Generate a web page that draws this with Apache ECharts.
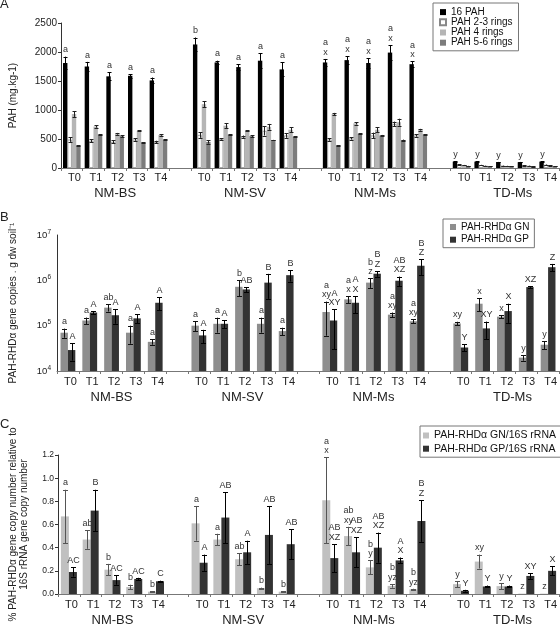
<!DOCTYPE html>
<html><head><meta charset="utf-8">
<script src="https://cdn.jsdelivr.net/npm/echarts@6/dist/echarts.min.js"></script>
<style>html,body{margin:0;padding:0;background:#fff}#c{width:560px;height:627px}</style>
</head><body><div id="c"></div>
<script>
// ---------- categories ----------
const groups = ['NM-BS', 'NM-SV', 'NM-Ms', 'TD-Ms'];
const times = ['T0', 'T1', 'T2', 'T3', 'T4'];

// ---------- Panel A : PAH (mg.kg-1) ----------
const pah16     = [1810,1750,1580,1590,1510, 2130,1820,1740,1850,1700, 1820,1860,1810,1990,1790, 110,110,100,100,110];
const pah16Err  = [110,80,70,30,50, 120,30,50,130,120, 60,70,85,130,50, 5,5,5,5,5];
const pah16Let  = ['a','a','a','a','a', 'b','a','a','a','a', 'a\nx','a\nx','a\nx','a\nx','a\nx', 'y','y','y','y','y'];
const pah23     = [490,470,450,490,450, 570,500,540,640,560, 490,510,560,760,560, 60,50,40,45,55];
const pah23Err  = [40,30,25,20,20, 50,10,20,80,40, 20,20,50,40,20, 5,5,3,3,5];
const pah4      = [930,715,590,640,570, 1100,730,640,710,660, 930,770,660,790,660, 50,40,35,40,45];
const pah4Err   = [50,20,15,10,15, 50,40,10,50,40, 20,20,40,60,15, 3,3,3,3,3];
const pah56     = [385,575,550,440,490, 450,575,550,480,540, 390,590,560,480,580, 35,30,30,25,30];
const pah56Err  = [10,5,15,5,10, 30,5,15,5,10, 5,10,10,10,5, 2,2,2,2,2];

// ---------- Panel B : gene copies per g dw soil ----------
const gnB    = [7.0e4,1.3e5,2.5e5,7.0e4,4.4e4, 1.0e5,1.1e5,7.2e5,1.1e5,7.6e4, 2.0e5,3.8e5,8.9e5,1.75e5,1.25e5, 1.12e5,3.05e5,1.58e5,1.97e4,3.8e4];
const gnBErr = [1.6e4,2.1e4,4.5e4,3.0e4,6e3, 2.5e4,4.0e4,2.8e5,4.0e4,1.4e4, 1.4e5,6.5e4,2.1e5,2.0e4,1.3e4, 1.0e4,9.5e4,1.4e4,2.8e3,7.5e3];
const gnBLet = ['a','a','ab','a','a', 'a','a','b','a','a', 'a\nxy','a\nx','b\nz','a\nxy','a\nxy', 'xy','x','x','y','y'];
const gpB    = [2.9e4,1.95e5,1.7e5,1.45e5,3.2e5, 6.1e4,1.1e5,6.3e5,8.9e5,1.3e6, 1.3e5,3.2e5,1.4e6,9.8e5,2.1e6, 3.3e4,8.7e4,2.1e5,7.1e5,1.95e6];
const gpBErr = [1.2e4,1.5e4,6.0e4,3.3e4,1.0e5, 2.0e4,2.3e4,8.0e4,5.0e5,3.6e5, 1.0e5,1.3e5,2.0e5,2.3e5,8.0e5, 6e3,3.6e4,9.5e4,3.0e4,3.5e5];
const gpBLet = ['A','A','A','A','A', 'A','A','AB','B','B', 'A\nXY','A\nX','B\nZ','AB\nXZ','B\nZ', 'Y','XY','X','XZ','Z'];

// ---------- Panel C : % relative to 16S rRNA ----------
const gnC    = [0.67,0.47,0.21,0.06,0.02, 0.61,0.47,0.30,0.05,0.02, 0.81,0.50,0.23,0.07,0.04, 0.085,0.28,0.068,0.003,0.003];
const gnCErr = [0.23,0.08,0.05,0.02,0.005, 0.15,0.05,0.05,0.005,0.005, 0.37,0.08,0.06,0.015,0.005, 0.025,0.06,0.025,0,0];
const gnCLet = ['a','ab','b','b','b', 'a','a','ab','b','b', 'a\nx','ab\nxy','b\ny','b\nyz','b\nyz', 'y','xy','y','z','z'];
const gpC    = [0.19,0.72,0.12,0.13,0.11, 0.27,0.66,0.36,0.51,0.43, 0.31,0.36,0.40,0.29,0.63, 0.028,0.065,0.065,0.156,0.20];
const gpCErr = [0.04,0.18,0.04,0.01,0.005, 0.07,0.22,0.10,0.25,0.13, 0.12,0.13,0.13,0.025,0.18, 0.008,0.008,0.008,0.025,0.04];
const gpCLet = ['AC','B','AC','AC','C', 'A','AB','A','AB','AB', 'AB\nXZ','AB\nXZ','AB\nXZ','A\nX','B\nZ', 'Y','Y','Y','XY','X'];

// ---------- helpers ----------
const FONT = "'Liberation Sans', Arial, sans-serif";
function slotOf(i) { return Math.floor(i / 5) * 6 + (i % 5); }
const cats = [], groupCats = [];
groups.forEach((g, gi) => {
  times.forEach((t, ti) => { cats.push(t); groupCats.push(ti === 2 ? g : ''); });
  if (gi < groups.length - 1) { cats.push(''); groupCats.push(''); }
});
function toSlots(arr) {
  const out = new Array(cats.length).fill(null);
  arr.forEach((v, i) => { out[slotOf(i)] = v; });
  return out;
}
function bar(name, xi, yi, vals, color, bw, extra) {
  return Object.assign({
    name, type: 'bar', xAxisIndex: xi, yAxisIndex: yi, data: toSlots(vals),
    barWidth: bw, barGap: '0%', itemStyle: { color }, silent: true, animation: false
  }, extra || {});
}
function errSeries(xi, yi, vals, errs, labels, order, n, bw, capW, color, lowClamp) {
  const data = vals.map((v, i) => [slotOf(i), v, errs[i], i]);
  return {
    type: 'custom', xAxisIndex: xi, yAxisIndex: yi, z: 5, silent: true, animation: false, clip: false,
    data,
    renderItem(params, api) {
      const x = api.value(0), v = api.value(1), e = api.value(2), i = api.value(3);
      const off = (order - (n - 1) / 2) * bw;
      const hi = api.coord([x, v + e]);
      const lo = api.coord([x, Math.max(v - e, lowClamp)]);
      const cx = Math.round(api.coord([x, v])[0] + off) + 0.5;
      const st = { stroke: color, lineWidth: 1 };
      const ch = [];
      if (e > 0) {
        ch.push({ type: 'line', shape: { x1: cx, y1: hi[1], x2: cx, y2: lo[1] }, style: st });
        ch.push({ type: 'line', shape: { x1: cx - capW / 2, y1: Math.round(hi[1]) + 0.5, x2: cx + capW / 2, y2: Math.round(hi[1]) + 0.5 }, style: st });
        ch.push({ type: 'line', shape: { x1: cx - capW / 2, y1: Math.round(lo[1]) + 0.5, x2: cx + capW / 2, y2: Math.round(lo[1]) + 0.5 }, style: st });
      }
      if (labels) {
        ch.push({ type: 'text', style: {
          text: labels[i], x: cx, y: hi[1] - 2, align: 'center', verticalAlign: 'bottom',
          textAlign: 'center', textVerticalAlign: 'bottom',
          fontSize: 9, fontFamily: FONT, lineHeight: 9.5, fill: '#333' } });
      }
      return { type: 'group', children: ch };
    }
  };
}
function xAxesFor(gi, tMargin, gMargin) {
  return [
    { type: 'category', gridIndex: gi, data: cats, position: 'bottom', offset: 0,
      axisLine: { lineStyle: { color: '#777', width: 1 } },
      axisTick: { show: true, length: 3, interval: 0, lineStyle: { color: '#777' } },
      axisLabel: { interval: 0, fontSize: 11, color: '#222', fontFamily: FONT, margin: tMargin, padding: [0, 0, 0, 5] } },
    { type: 'category', gridIndex: gi, data: groupCats, position: 'bottom', offset: 0,
      axisLine: { show: false }, axisTick: { show: false }, splitLine: { show: false },
      axisLabel: { interval: 0, fontSize: 13, color: '#222', fontFamily: FONT, margin: gMargin,
        formatter: v => v === 'TD-Ms' ? '{r|' + v + '}' : v,
        rich: { r: { fontSize: 13, fontFamily: FONT, color: '#222', padding: [0, 0, 0, 16] } } } }
  ];
}
const yCommon = {
  axisLine: { show: true, lineStyle: { color: '#333' } },
  axisTick: { show: true, length: 3, lineStyle: { color: '#333' } },
  splitLine: { show: false },
  nameLocation: 'middle',
  nameTextStyle: { fontSize: 10, color: '#222', fontFamily: FONT }
};
const legendCommon = {
  orient: 'vertical', icon: 'rect', itemWidth: 6, itemHeight: 6, selectedMode: false,
  borderColor: '#777', borderWidth: 1, backgroundColor: '#fff'
};

const option = {
  animation: false,
  textStyle: { fontFamily: FONT },
  title: [
    { text: 'A', left: 0, top: -2, padding: 0, textStyle: { fontSize: 13, fontWeight: 'normal', color: '#222', fontFamily: FONT } },
    { text: 'B', left: 0, top: 211, padding: 0, textStyle: { fontSize: 13, fontWeight: 'normal', color: '#222', fontFamily: FONT } },
    { text: 'C', left: 0, top: 418, padding: 0, textStyle: { fontSize: 13, fontWeight: 'normal', color: '#222', fontFamily: FONT } }
  ],
  legend: [
    Object.assign({}, legendCommon, { data: ['16 PAH', 'PAH 2-3 rings', 'PAH 4 rings', 'PAH 5-6 rings'],
      left: 433, top: 3, padding: [4, 6, 3, 6], itemGap: 0,
      textStyle: { fontSize: 10, lineHeight: 10.2, color: '#111', fontFamily: FONT } }),
    Object.assign({}, legendCommon, { data: ['PAH-RHDα GN', 'PAH-RHDα GP'],
      left: 443, top: 219, padding: [3, 5, 3, 7], itemGap: 2.7,
      textStyle: { fontSize: 10, lineHeight: 10, color: '#111', fontFamily: FONT } }),
    Object.assign({}, legendCommon, { data: ['PAH-RHDα GN/16S rRNA', 'PAH-RHDα GP/16S rRNA'],
      left: 420, top: 426, padding: [4, 5, 3, 3], itemGap: 2.2,
      textStyle: { fontSize: 10.5, lineHeight: 10.5, color: '#111', fontFamily: FONT } })
  ],
  grid: [
    { left: 57, top: 23, width: 502, height: 145 },
    { left: 57, top: 235, width: 502, height: 136 },
    { left: 57, top: 455, width: 502, height: 140 }
  ],
  xAxis: [].concat(xAxesFor(0, 4, 19), xAxesFor(1, 5, 20), xAxesFor(2, 5, 20)),
  yAxis: [
    Object.assign({}, yCommon, { type: 'value', gridIndex: 0, min: 0, max: 2500, interval: 500,
      name: 'PAH (mg.kg-1)', nameGap: 43,
      axisLabel: { fontSize: 10, color: '#222', margin: 4, fontFamily: FONT, formatter: v => String(v) } }),
    Object.assign({}, yCommon, { type: 'log', logBase: 10, gridIndex: 1, min: 1e4, max: 1e7,
      name: 'PAH-RHDα gene copies . g dw soil⁻¹', nameGap: 39,
      axisTick: { show: false },
      axisLabel: { margin: 6, formatter: v => '{b|10}{s|' + Math.round(Math.log10(v)) + '}',
        rich: { b: { fontSize: 9.5, lineHeight: 13, color: '#222', fontFamily: FONT },
                s: { fontSize: 6.5, lineHeight: 8, verticalAlign: 'top', color: '#222', fontFamily: FONT } } } }),
    Object.assign({}, yCommon, { type: 'value', gridIndex: 2, min: 0, max: 1.2, interval: 0.2,
      name: '% PAH-RHDα gene copy number relative to\n16S rRNA gene copy number', nameGap: 28,
      nameTextStyle: { fontSize: 10, lineHeight: 11, color: '#222', fontFamily: FONT },
      axisLabel: { fontSize: 8.5, color: '#222', margin: 4, fontFamily: FONT, formatter: v => v.toFixed(1) } })
  ],
  series: [
    // Panel A
    bar('16 PAH', 0, 0, pah16, '#000', 4.4),
    bar('PAH 2-3 rings', 0, 0, pah23, '#fff', 4.4, { itemStyle: { color: '#fff', borderColor: '#888', borderWidth: 0.8 } }),
    bar('PAH 4 rings', 0, 0, pah4, '#b5b5b5', 4.4),
    bar('PAH 5-6 rings', 0, 0, pah56, '#7c7c7c', 4.4),
    errSeries(0, 0, pah16, pah16Err, pah16Let, 0, 4, 4.4, 4, '#000', 0),
    errSeries(0, 0, pah23, pah23Err, null, 1, 4, 4.4, 4, '#222', 0),
    errSeries(0, 0, pah4, pah4Err, null, 2, 4, 4.4, 4, '#222', 0),
    errSeries(0, 0, pah56, pah56Err, null, 3, 4, 4.4, 4, '#222', 0),
    // Panel B
    bar('PAH-RHDα GN', 2, 1, gnB, '#8e8e8e', 7.4),
    bar('PAH-RHDα GP', 2, 1, gpB, '#333', 7.4),
    errSeries(2, 1, gnB, gnBErr, gnBLet, 0, 2, 7.4, 5, '#111', 1e4),
    errSeries(2, 1, gpB, gpBErr, gpBLet, 1, 2, 7.4, 5, '#000', 1e4),
    // Panel C
    bar('PAH-RHDα GN/16S rRNA', 4, 2, gnC, '#c0c0c0', 8),
    bar('PAH-RHDα GP/16S rRNA', 4, 2, gpC, '#333', 8),
    errSeries(4, 2, gnC, gnCErr, gnCLet, 0, 2, 8, 5, '#555', 0),
    errSeries(4, 2, gpC, gpCErr, gpCLet, 1, 2, 8, 5, '#000', 0)
  ]
};
const chart = echarts.init(document.getElementById('c'), null, { renderer: 'canvas' });
chart.setOption(option);
</script>
</body></html>
